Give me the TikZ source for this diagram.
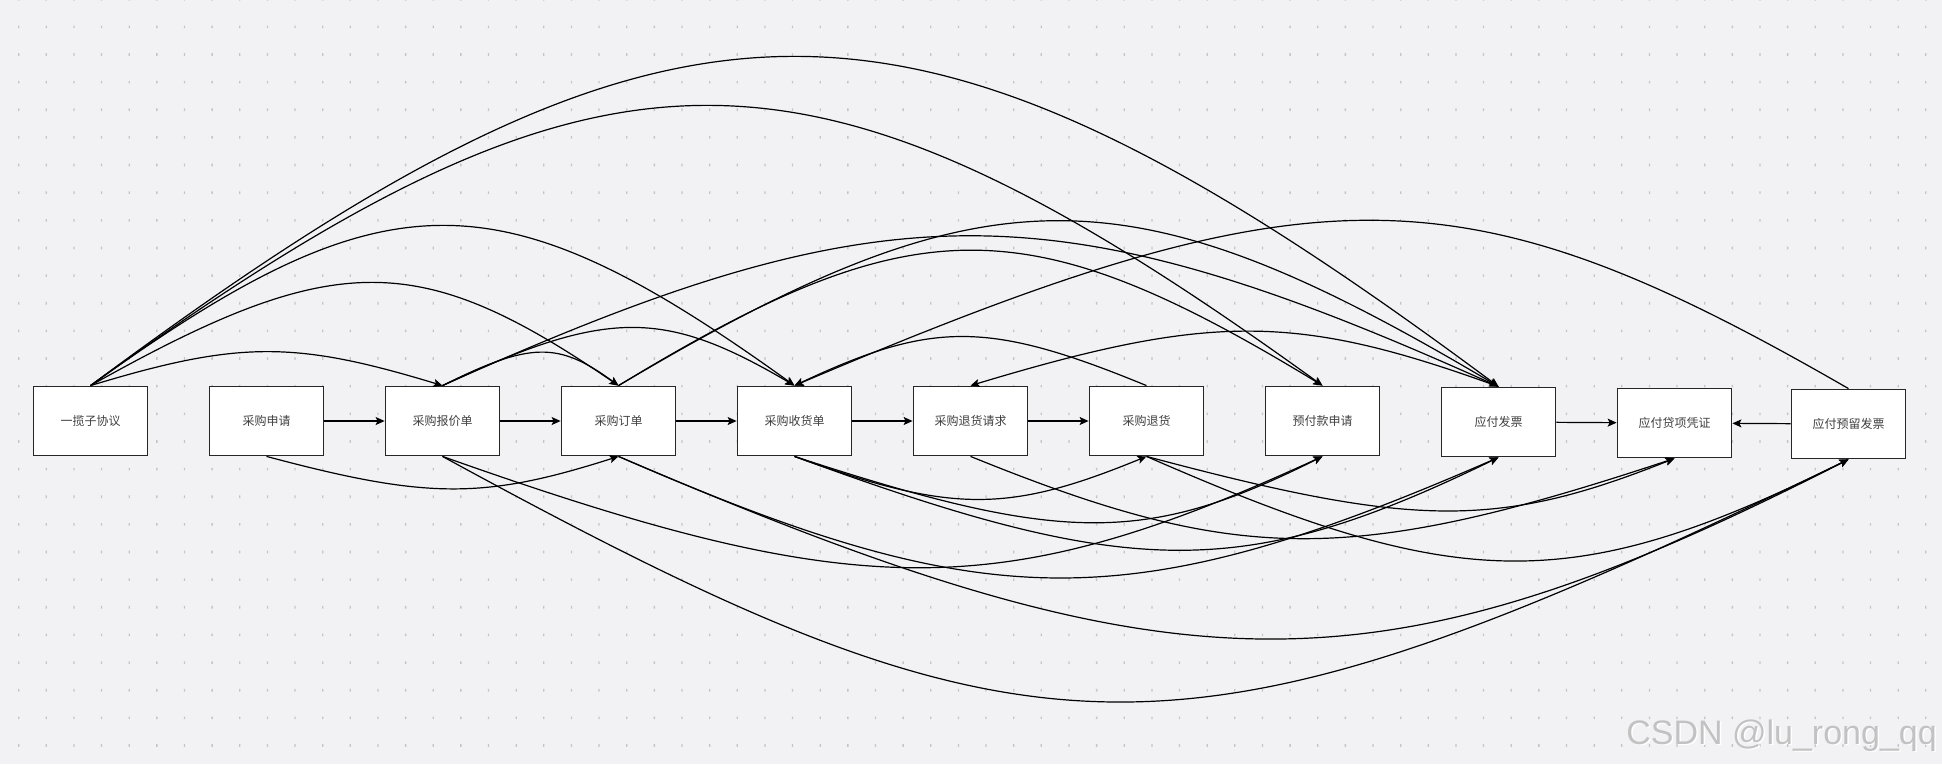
\documentclass[tikz,border=0pt]{standalone}
\usepackage{fontspec}
\newfontfamily\cjk{Noto Sans CJK SC}
\newfontfamily\wmfont{Liberation Sans}
\usetikzlibrary{arrows.meta,calc}
\definecolor{bgcol}{HTML}{F2F2F4}
\definecolor{dotcol}{HTML}{C4C4C9}
\definecolor{boxline}{HTML}{262626}
\definecolor{txtcol}{HTML}{404040}
\definecolor{wmcol}{HTML}{C2C2C2}
\tikzset{
  box/.style={draw=boxline, line width=1.8pt, fill=white, minimum width=114pt, minimum height=69pt,
    inner sep=0pt, font=\cjk\fontsize{12pt}{14pt}\selectfont, text=txtcol},
  link/.style={draw=black, line width=1.2pt, -{Stealth[length=9pt,width=8pt,inset=2pt]}},
}
\newcommand\toparc[5]{\draw[link] (#1.north) .. controls ($(#1.north)+(#3,#5)$) and ($(#2.north)+(#4,#5)$) .. (#2.north);}
\newcommand\botarc[5]{\draw[link] (#1.south) .. controls ($(#1.south)+(#3,#5)$) and ($(#2.south)+(#4,#5)$) .. (#2.south);}
\begin{document}
\begin{tikzpicture}[x=1pt,y=-1pt]
\useasboundingbox (0,0) rectangle (1942,764);
\fill[bgcol] (0,0) rectangle (1942,764);
\fill[dotcol] \foreach \i in {0,...,69} { \foreach \j in {0,...,27} {
  ({18.0+27.64*\i},{-2.1+27.64*\j}) rectangle ++(1.3,2.6) } };

\node[box] (n1)  at (90.5,421)   {一揽子协议};
\node[box] (n2)  at (266.5,421)  {采购申请};
\node[box] (n3)  at (442.5,421)  {采购报价单};
\node[box] (n4)  at (618.5,421)  {采购订单};
\node[box] (n5)  at (794.5,421)  {采购收货单};
\node[box] (n6)  at (970.5,421)  {采购退货请求};
\node[box] (n7)  at (1146.5,421) {采购退货};
\node[box] (n8)  at (1322.5,421) {预付款申请};
\node[box] (n9)  at (1498.5,422) {应付发票};
\node[box] (n10) at (1674.5,423) {应付贷项凭证};
\node[box] (n11) at (1848.5,424) {应付预留发票};

% straight links
\draw[link] (n2) -- (n3);
\draw[link] (n3) -- (n4);
\draw[link] (n4) -- (n5);
\draw[link] (n5) -- (n6);
\draw[link] (n6) -- (n7);
\draw[link] (n9) -- (n10);
\draw[link] (n11) -- (n10);

% top arcs
\toparc{n1}{n9}{591}{-591}{-439}
\toparc{n1}{n8}{517}{-517}{-373}
\toparc{n1}{n5}{296}{-296}{-213}
\toparc{n1}{n4}{244}{-200}{-137}
\toparc{n1}{n3}{148}{-148}{-45}
\toparc{n3}{n4}{88}{-60}{-44}
\toparc{n3}{n5}{165}{-131}{-77}
\toparc{n3}{n9}{444}{-444}{-200}
\toparc{n4}{n8}{296}{-296}{-180}
\toparc{n4}{n9}{370}{-370}{-220}
\toparc{n11}{n5}{-385}{522}{-222}
\toparc{n7}{n5}{-158}{138}{-65}
\toparc{n9}{n6}{-201}{242}{-73}

% bottom arcs
\botarc{n2}{n4}{161}{-135}{43}
\botarc{n3}{n11}{595}{-671}{325}
\botarc{n3}{n8}{417}{-323}{148}
\botarc{n4}{n9}{370}{-370}{161}
\botarc{n4}{n11}{561}{-473}{241}
\botarc{n5}{n7}{157}{-139}{57}
\botarc{n5}{n8}{268}{-176}{88}
\botarc{n5}{n9}{337}{-255}{124}
\botarc{n6}{n10}{266}{-326}{108}
\botarc{n7}{n10}{266}{-178}{71}
\botarc{n7}{n11}{313}{-277}{137}

% watermark
\node[anchor=base east, inner sep=0pt, text=white, font=\wmfont\fontsize{34pt}{34pt}\selectfont] (wmshadow) at (1938.5,745.5) {CSDN @lu\_rong\_qq};
\node[anchor=base east, inner sep=0pt, text=wmcol, font=\wmfont\fontsize{34pt}{34pt}\selectfont] (wm) at (1937,744) {CSDN @lu\_rong\_qq};
\end{tikzpicture}
\end{document}
